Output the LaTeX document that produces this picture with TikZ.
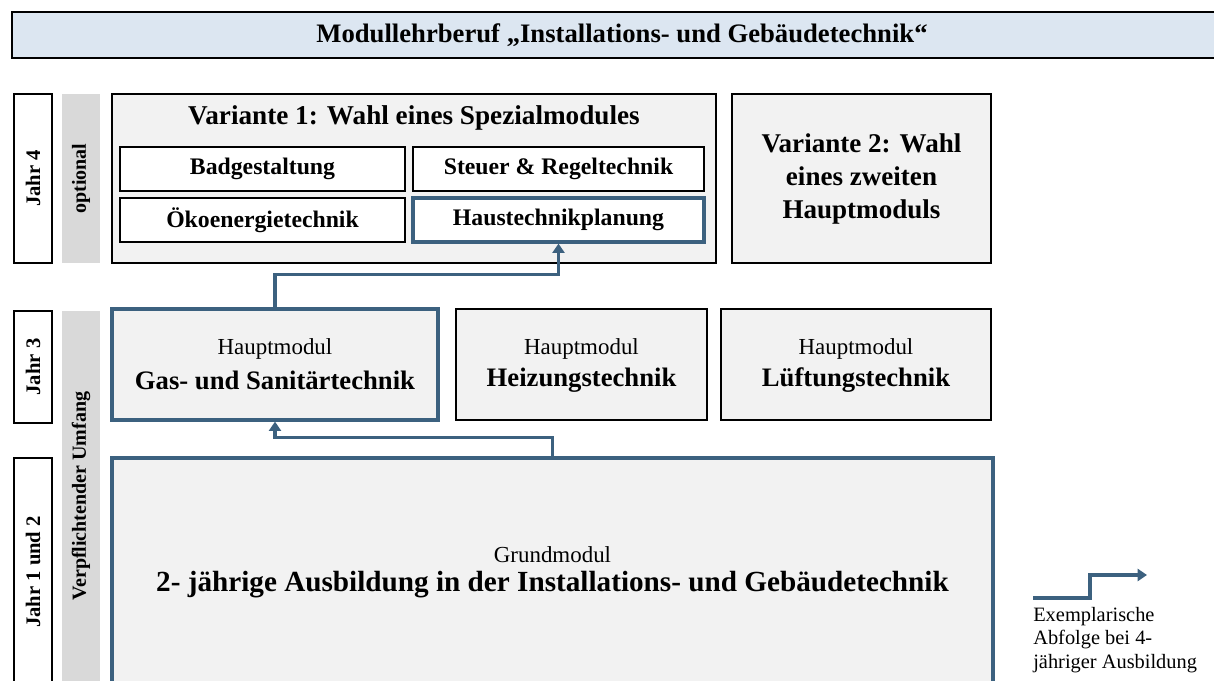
\documentclass[tikz,border=0pt]{standalone}
\usepackage{fontspec}
\setmainfont{Liberation Serif}
\usetikzlibrary{arrows.meta}

\definecolor{pathblue}{RGB}{60,97,127}
\definecolor{headblue}{RGB}{220,230,241}
\definecolor{boxgray}{RGB}{242,242,242}
\definecolor{bargray}{RGB}{217,217,217}

\begin{document}
\begin{tikzpicture}[x=0.75pt,y=-0.75pt,
    box/.style={draw=black,line width=1pt,fill=boxgray,align=center,inner sep=0pt},
    sub/.style={draw=black,line width=1pt,fill=white,font=\fontsize{17.8}{20}\selectfont\bfseries,inner sep=0pt},
    hot/.style={draw=pathblue,line width=2.4pt},
    modul/.style={font=\fontsize{20}{23.5}\selectfont\bfseries},
    year/.style={draw=black,line width=1pt,fill=white,rotate=90,font=\fontsize{15.5}{18}\selectfont\bfseries,inner sep=0pt},
    bar/.style={fill=bargray,rotate=90,font=\fontsize{15}{18}\selectfont\bfseries,inner sep=0pt},
    flow/.style={draw=pathblue,line width=2.4pt,-{Triangle[length=7pt,width=9pt]}}]
    \clip (0,0) rectangle (1214,681);
    \useasboundingbox (0,0) rectangle (1214,681);

    \node[box,fill=headblue,minimum width=1220*0.75pt,minimum height=46*0.75pt,
      font=\fontsize{20}{23}\selectfont\bfseries] (title) at (622,35)
      {Modullehrberuf „Installations- und Gebäudetechnik“};

    % Jahr 4
    \node[year,minimum width=169*0.75pt,minimum height=38*0.75pt] (jahr4) at (33,178.5) {Jahr 4};
    \node[bar,minimum width=169*0.75pt,minimum height=38*0.75pt] (optional) at (81,178.5) {optional};
    \node[box,minimum width=604*0.75pt,minimum height=169*0.75pt] (var1) at (414,178.5) {};
    \node[font=\fontsize{20.4}{24}\selectfont\bfseries] (var1txt) at (414,118) {Variante 1: Wahl eines Spezialmodules};
    \node[sub,minimum width=285*0.75pt,minimum height=44*0.75pt] (badge) at (262.5,169) {Badgestaltung};
    \node[sub,minimum width=291*0.75pt,minimum height=44*0.75pt] (steuer) at (558.5,169) {Steuer \& Regeltechnik};
    \node[sub,minimum width=285*0.75pt,minimum height=44*0.75pt] (oeko) at (262.5,220) {Ökoenergietechnik};
    \node[sub,hot,minimum width=291*0.75pt,minimum height=44*0.75pt] (haust) at (558.5,220) {Haustechnikplanung};
    \node[box,minimum width=259*0.75pt,minimum height=169*0.75pt,
      font=\fontsize{20.3}{24.75}\selectfont\bfseries] (var2) at (861.5,178.5)
      {Variante 2: Wahl\\eines zweiten\\Hauptmoduls};

    % Jahr 3
    \node[year,minimum width=112*0.75pt,minimum height=38*0.75pt] (jahr3) at (33,367) {Jahr 3};
    \node[bar,minimum width=370*0.75pt,minimum height=38*0.75pt] (pflicht) at (81,496) {Verpflichtender Umfang};
    \node[box,hot,minimum width=326*0.75pt,minimum height=111*0.75pt] (gas) at (275,364.5) {};
    \node[box,minimum width=251*0.75pt,minimum height=111*0.75pt] (heiz) at (581.5,364.5) {};
    \node[box,minimum width=270*0.75pt,minimum height=111*0.75pt] (lueft) at (856,364.5) {};
    \foreach \n/\t in {gas/Gas- und Sanitärtechnik,heiz/Heizungstechnik,lueft/Lüftungstechnik}{
      \node[font=\fontsize{17.2}{20}\selectfont] (\n top) at ([yshift=16*0.75pt]\n.center) {Hauptmodul};
      \node[modul] (\n txt) at ([yshift=-15.5*0.75pt]\n.center) {\t};
    }

    % Jahr 1 und 2
    \node[year,minimum width=228*0.75pt,minimum height=38*0.75pt] (jahr12) at (33,572) {Jahr 1 und 2};
    \node[box,hot,minimum width=881*0.75pt,minimum height=300*0.75pt] (grund) at (552.5,608) {};
    \node[font=\fontsize{17.2}{20}\selectfont] (grundtop) at (552.5,555) {Grundmodul};
    \node[font=\fontsize{21.9}{25}\selectfont\bfseries] (grundtxt) at (552.5,585)
      {2- jährige Ausbildung in der Installations- und Gebäudetechnik};

    % Abfolge
    \draw[flow] (grund.north) -- ++(0,-19) -| (gas.south);
    \draw[flow] (gas.north) -- ++(0,-33) -| (haust.south);

    % legend
    \coordinate (lega) at (1033,598);
    \coordinate (legb) at (1147,575);
    \draw[flow] (lega) -- ++(57,0) |- (legb);
    \node[anchor=north west,align=left,inner sep=0pt,font=\fontsize{15.3}{17.6}\selectfont] (legtxt) at (1033,607)
      {Exemplarische\\Abfolge bei 4-\\jähriger Ausbildung};
\end{tikzpicture}
\end{document}
